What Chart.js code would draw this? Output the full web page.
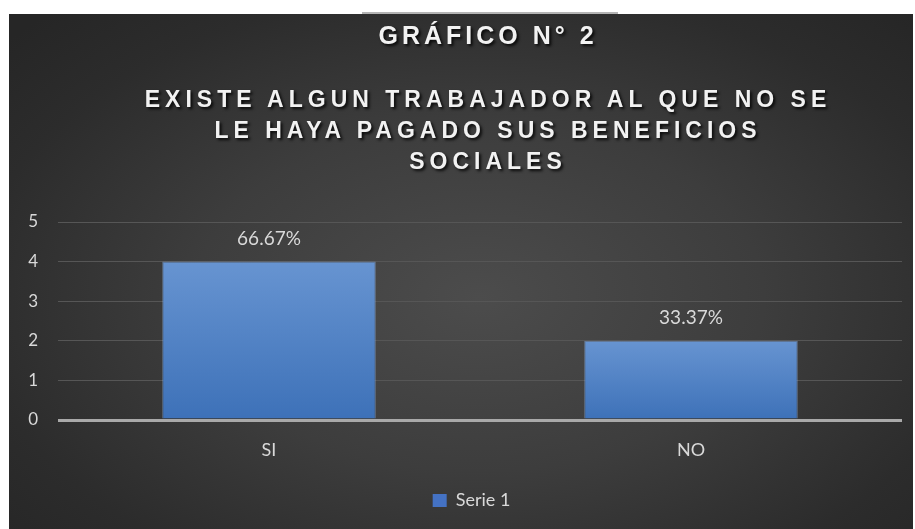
<!DOCTYPE html>
<html>
<head>
<meta charset="utf-8">
<script src="https://cdn.jsdelivr.net/npm/chart.js@4.4.1/dist/chart.umd.min.js"></script>
<style>
  html, body { margin: 0; padding: 0; background: #fff; }
  body { width: 915px; height: 529px; position: relative; overflow: hidden; }
  #topline { position: absolute; left: 362px; top: 12px; width: 256px; height: 2px; background: #b4b4b4; }
  #frame {
    position: absolute; left: 9px; top: 14px; width: 904px; height: 515px;
    background: radial-gradient(ellipse 70% 75% at 52% 55%, #4c4c4c 0%, #3d3d3d 45%, #2c2c2c 80%, #262626 100%);
  }
  #titles {
    position: absolute; left: 61px; width: 854px; top: 0; text-align: center;
    font-family: "Liberation Sans", Arial, sans-serif; font-weight: bold; color: #f2f2f2;
    text-shadow: 2px 2px 3px rgba(0,0,0,0.85);
  }
  #titles .main { position: absolute; left: 0; right: 0; top: 20px; font-size: 25px; letter-spacing: 4px; line-height: 30px; }
  #titles .sub { position: absolute; left: 0; right: 0; top: 84px; font-size: 23px; letter-spacing: 5px; line-height: 31px; }
  canvas { position: absolute; left: 0; top: 0; }
</style>
</head>
<body>
<div id="topline"></div>
<div id="frame">
  <canvas id="chart" width="904" height="515"></canvas>
</div>
<div id="titles"><div class="main"></div><div class="sub"></div></div>
<script>
const chartTitle = 'GRÁFICO N° 2';
const subtitleLines = ['EXISTE ALGUN TRABAJADOR AL QUE NO SE', 'LE HAYA PAGADO SUS BENEFICIOS', 'SOCIALES'];
const categories = ['SI', 'NO'];
const serie1 = [4, 2];
const pctLabels = ['66.67%', '33.37%'];
const seriesName = 'Serie 1';
const yMax = 5;

document.querySelector('#titles .main').textContent = chartTitle;
document.querySelector('#titles .sub').innerHTML = subtitleLines.map(s => `<div>${s}</div>`).join('');

const txt = '#d9d9d9';
const font = 'Lato';

// labels above the bars
const barLabels = {
  id: 'barLabels',
  afterDatasetsDraw(chart) {
    const { ctx } = chart;
    const meta = chart.getDatasetMeta(0);
    ctx.save();
    ctx.font = `19px ${font}`;
    ctx.fillStyle = txt;
    ctx.textAlign = 'center';
    ctx.textBaseline = 'middle';
    meta.data.forEach((bar, i) => ctx.fillText(pctLabels[i], bar.x, bar.y - 23));
    ctx.restore();
  },
};

// legend sits a bit right of centre in the original
const legendNudge = {
  id: 'legendNudge',
  afterUpdate(chart) {
    if (!chart.legend) return;
    chart.legend.left += 16;
    chart.legend.right += 16;
  },
};

function barFill(c) {
  const { chart } = c;
  const y = chart.scales.y;
  if (!y || !chart.chartArea) return '#4f81c7';
  const top = y.getPixelForValue(c.raw);
  const g = chart.ctx.createLinearGradient(0, top, 0, y.getPixelForValue(0));
  g.addColorStop(0, '#6794d1');
  g.addColorStop(1, '#3d71b8');
  return g;
}

new Chart(document.getElementById('chart'), {
  type: 'bar',
  data: {
    labels: categories,
    datasets: [{
      label: seriesName,
      data: serie1,
      backgroundColor: barFill,
      borderColor: 'rgba(140,175,225,0.55)',
      borderWidth: { left: 1, right: 1, top: 1, bottom: 0 },
      borderSkipped: false,
      categoryPercentage: 1,
      barPercentage: 0.506,
    }],
  },
  options: {
    responsive: false,
    animation: false,
    layout: { padding: { top: 208, right: 11, bottom: 9.5, left: 0 } },
    plugins: {
      title: { display: false },
      tooltip: { enabled: false },
      legend: {
        position: 'bottom',
        labels: {
          boxWidth: 14, boxHeight: 13, padding: 10,
          font: { family: font, size: 18 }, color: txt,
          generateLabels: () => [{
            text: seriesName, fillStyle: '#4472c4', strokeStyle: '#4472c4',
            lineWidth: 0, hidden: false, datasetIndex: 0, fontColor: txt,
          }],
        },
      },
    },
    scales: {
      x: {
        grid: { display: false, drawTicks: false },
        border: { display: false },
        ticks: { color: txt, font: { family: font, size: 18 }, padding: 19 },
        afterFit: s => { s.height = 61.5; },
      },
      y: {
        min: 0, max: yMax,
        border: { display: false },
        grid: {
          drawTicks: false,
          color: c => c.tick.value === 0 ? '#a9a9a9' : '#565656',
          lineWidth: c => c.tick.value === 0 ? 3 : 1,
        },
        ticks: { stepSize: 1, color: txt, font: { family: font, size: 17 }, padding: 20 },
        afterFit: s => { s.width = 49; },
      },
    },
  },
  plugins: [barLabels, legendNudge],
});
</script>
</body>
</html>
